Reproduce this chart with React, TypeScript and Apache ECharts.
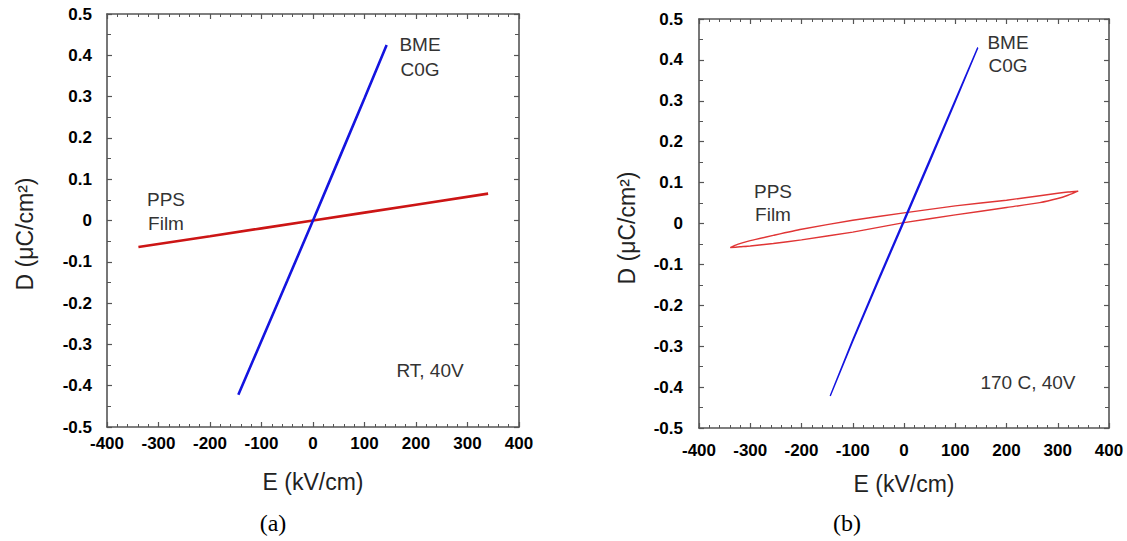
import React, { useEffect, useRef } from "react";
import * as echarts from "echarts";

// ---- Data ----
// (a) RT, 40V
const aBmeE = [-145, -100, -50, 0, 50, 100, 143];
const aBmeD = [-0.422, -0.291, -0.146, 0, 0.148, 0.296, 0.425];
const aPpsE = [-339, -200, -100, 0, 100, 200, 340];
const aPpsD = [-0.064, -0.038, -0.019, 0, 0.019, 0.038, 0.065];

// (b) 170 C, 40V
const bBmeE = [-144, -100, -50, 0, 50, 100, 144, 100, 50, 0, -50, -100, -144];
const bBmeD = [-0.422, -0.288, -0.141, 0.004, 0.15, 0.298, 0.43, 0.302, 0.156, 0.01, -0.136, -0.284, -0.422];
const bPpsE = [340, 320, 300, 265, 200, 100, 0, -100, -200, -255, -300, -325, -339, -320, -300, -255, -200, -100, 0, 100, 200, 265, 300, 320, 340];
const bPpsD = [0.079, 0.077, 0.074, 0.068, 0.057, 0.043, 0.026, 0.008, -0.014, -0.029, -0.042, -0.051, -0.059, -0.057, -0.055, -0.049, -0.040, -0.021, 0.002, 0.021, 0.039, 0.051, 0.061, 0.069, 0.079];

const xMin = -400, xMax = 400, xStep = 100;
const yMin = -0.5, yMax = 0.5, yStep = 0.1;

const zip = (xs: number[], ys: number[]) => xs.map((x, i) => [x, ys[i]]);

const FONT = "'Liberation Sans', Arial, sans-serif";
const FRAME = "#555";
const BLUE = "#1414e0";
const RED_A = "#cc1515";
const RED_B = "#e03535";

function makeAxes(grid: number, labelMarginX: number, labelMarginY: number) {
  const tick = { show: true, inside: true, length: 5, lineStyle: { color: FRAME, width: 1.2 } };
  const common = { gridIndex: grid, axisLine: { show: true, onZero: false, lineStyle: { color: FRAME, width: 1.6 } }, splitLine: { show: false } };
  const xs = [
    {
      ...common, type: "value", position: "bottom", min: xMin, max: xMax, interval: xStep,
      axisTick: tick, minorTick: { show: true, splitNumber: 5, length: 3, lineStyle: { color: FRAME, width: 1 } },
      axisLabel: { show: true, margin: labelMarginX, color: "#000", fontWeight: "bold", fontSize: 17, fontFamily: FONT, showMinLabel: true, showMaxLabel: true },
    },
    {
      ...common, type: "value", position: "top", min: xMin, max: xMax, interval: xStep,
      axisTick: tick, minorTick: { show: true, splitNumber: 5, length: 3, lineStyle: { color: FRAME, width: 1 } },
      axisLabel: { show: false },
    },
  ];
  const yFmt = (v: number) => { const r = Math.round(v * 10) / 10; return r === 0 ? "0" : r.toFixed(1); };
  const ys = [
    {
      ...common, type: "value", position: "left", min: yMin, max: yMax, interval: yStep,
      axisTick: tick, minorTick: { show: true, splitNumber: 2, length: 4, lineStyle: { color: FRAME, width: 1 } },
      axisLabel: { show: true, margin: labelMarginY, color: "#000", fontWeight: "bold", fontSize: 17, fontFamily: FONT, formatter: yFmt },
    },
    {
      ...common, type: "value", position: "right", min: yMin, max: yMax, interval: yStep,
      axisTick: tick, minorTick: { show: true, splitNumber: 2, length: 4, lineStyle: { color: FRAME, width: 1 } },
      axisLabel: { show: false },
    },
  ];
  return { xs, ys };
}

export default function App() {
  const ref = useRef<HTMLDivElement>(null);
  useEffect(() => {
    if (!ref.current) return;
    const chart = echarts.init(ref.current, undefined, { renderer: "svg" });
    const a = makeAxes(0, 8, 15);
    const b = makeAxes(1, 14, 16);
    const textStyle = (t: string, x: number, y: number, size = 19, family = FONT, color = "#333") => ({
      type: "text", x, y,
      style: { text: t, font: `${size}px ${family}`, fill: color, textAlign: "center", textVerticalAlign: "middle" },
    });
    const yTitle = (x: number, y: number) => ({
      type: "text", x, y, rotation: Math.PI / 2,
      style: { text: "D (μC/cm²)", font: `23px ${FONT}`, fill: "#222", textAlign: "center", textVerticalAlign: "middle" },
    });
    chart.setOption({
      animation: false,
      backgroundColor: "#fff",
      grid: [
        { left: 107, top: 14, width: 412, height: 413, containLabel: false },
        { left: 699, top: 19, width: 410, height: 409, containLabel: false },
      ],
      xAxis: [
        { ...a.xs[0], name: "E (kV/cm)", nameLocation: "middle", nameGap: 43, nameTextStyle: { fontSize: 23, color: "#222", fontFamily: FONT } },
        a.xs[1],
        { ...b.xs[0], name: "E (kV/cm)", nameLocation: "middle", nameGap: 44, nameTextStyle: { fontSize: 23, color: "#222", fontFamily: FONT } },
        b.xs[1],
      ],
      yAxis: [a.ys[0], a.ys[1], b.ys[0], b.ys[1]],
      series: [
        { type: "line", name: "PPS Film (a)", xAxisIndex: 0, yAxisIndex: 0, data: zip(aPpsE, aPpsD), showSymbol: false, lineStyle: { color: RED_A, width: 2.6 }, itemStyle: { color: RED_A } },
        { type: "line", name: "BME C0G (a)", xAxisIndex: 0, yAxisIndex: 0, data: zip(aBmeE, aBmeD), showSymbol: false, lineStyle: { color: BLUE, width: 2.6 }, itemStyle: { color: BLUE } },
        { type: "line", name: "PPS Film (b)", xAxisIndex: 2, yAxisIndex: 2, data: zip(bPpsE, bPpsD), showSymbol: false, smooth: 0.2, lineStyle: { color: RED_B, width: 1.4 }, itemStyle: { color: RED_B } },
        { type: "line", name: "BME C0G (b)", xAxisIndex: 2, yAxisIndex: 2, data: zip(bBmeE, bBmeD), showSymbol: false, lineStyle: { color: BLUE, width: 1.4 }, itemStyle: { color: BLUE } },
      ],
      graphic: [
        yTitle(25, 234),
        yTitle(627, 228),
        textStyle("BME", 420, 44),
        textStyle("C0G", 420, 69),
        textStyle("PPS", 166, 199),
        textStyle("Film", 166, 223),
        textStyle("RT, 40V", 430, 370),
        textStyle("BME", 1008, 42),
        textStyle("C0G", 1008, 65),
        textStyle("PPS", 773, 191),
        textStyle("Film", 773, 214),
        textStyle("170 C, 40V", 1028, 382),
        textStyle("(a)", 273, 523, 24, "'Liberation Serif', 'Times New Roman', serif", "#000"),
        textStyle("(b)", 847, 523, 24, "'Liberation Serif', 'Times New Roman', serif", "#000"),
      ],
    });
    return () => chart.dispose();
  }, []);
  return <div ref={ref} style={{ position: "fixed", left: 0, top: 0, width: 1127, height: 541, background: "#fff" }} />;
}
